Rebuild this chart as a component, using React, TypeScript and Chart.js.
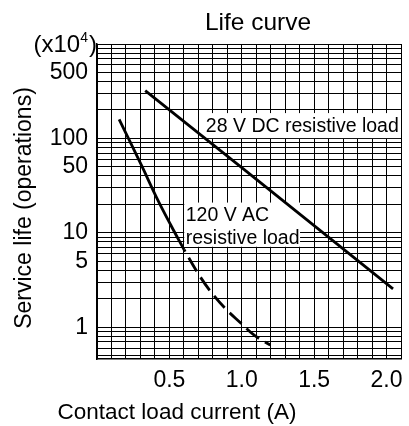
import React, { useEffect, useRef } from 'react';
import { Chart, registerables } from 'chart.js';

Chart.register(...registerables);

const FONT = '"Liberation Sans", Arial, Helvetica, sans-serif';

// ---- texts ----
const chartTitle = 'Life curve';
const xAxisTitle = 'Contact load current (A)';
const yAxisTitle = 'Service life (operations)';
const yUnitBase = '(x10';
const yUnitExp = '4';
const yUnitClose = ')';
const dcLabelLines = ['28 V DC resistive load'];
const acLabelLines = ['120 V AC', 'resistive load'];

// ---- axes ----
const xMin = 0;
const xMax = 2.1;
const yMin = 0.46;
const yMax = 1000;
const xGridValues = [0, 0.1, 0.2, 0.3, 0.4, 0.5, 0.6, 0.7, 0.8, 0.9, 1.0, 1.1, 1.2, 1.3, 1.4, 1.5, 1.6, 1.7, 1.8, 1.9, 2.0, 2.1];
const xLabelValues = [0.5, 1.0, 1.5, 2.0];
const xTickLabels = ['0.5', '1.0', '1.5', '2.0'];
const yGridValues = [
  0.5, 0.6, 0.7, 0.8, 0.9,
  1, 2, 3, 4, 5, 6, 7, 8, 9,
  10, 20, 30, 40, 50, 60, 70, 80, 90,
  100, 200, 300, 400, 500, 600, 700, 800, 900,
  1000,
];
const yLabelValues = [1, 5, 10, 50, 100, 500];
const yTickLabels = ['1', '5', '10', '50', '100', '500'];

// ---- series (current in A, life in x10^4 operations) ----
const dcCurrent = [0.333, 1.0, 2.045];
const dcLife = [320, 48.9, 2.54];

const acSolidCurrent = [0.153, 0.306, 0.41, 0.513, 0.602];
const acSolidLife = [159, 52.3, 23.9, 11.8, 6.6];

const acDashCurrent = [0.602, 0.705, 0.793, 0.889, 0.985, 1.088, 1.197];
const acDashLife = [6.6, 3.57, 2.3, 1.56, 1.135, 0.817, 0.647];

const toPoints = (xs: number[], ys: number[]) => xs.map((x, i) => ({ x, y: ys[i] }));

const near = (a: number, b: number) => Math.abs(a - b) < 1e-6;

const textPlugin = {
  id: 'lifeTexts',
  beforeDatasetsDraw(chart: any) {
    const { ctx, scales } = chart;
    const xs = scales.x;
    const ys = scales.y;
    ctx.save();
    ctx.font = `19.5px ${FONT}`;
    ctx.textBaseline = 'middle';
    ctx.textAlign = 'left';
    // DC label box
    {
      const left = xs.getPixelForValue(0.752);
      const cy = ys.getPixelForValue(135);
      const w = ctx.measureText(dcLabelLines[0]).width;
      ctx.fillStyle = '#fff';
      ctx.fillRect(left - 3, cy - 13, Math.min(w + 6, chart.chartArea.right - 1 - (left - 3)), 25);
      ctx.fillStyle = '#000';
      ctx.fillText(dcLabelLines[0], left, cy + 1);
    }
    // AC label box
    {
      const left = xs.getPixelForValue(0.613);
      const cy1 = ys.getPixelForValue(15.4);
      const cy2 = ys.getPixelForValue(8.96);
      const w = Math.max(...acLabelLines.map((s) => ctx.measureText(s).width));
      ctx.fillStyle = '#fff';
      ctx.fillRect(left - 1.5, cy1 - 12.5, w + 2, cy2 - cy1 + 22);
      ctx.fillStyle = '#000';
      ctx.fillText(acLabelLines[0], left, cy1 + 1);
      ctx.fillText(acLabelLines[1], left, cy2 + 1);
    }
    ctx.restore();
  },
  afterDraw(chart: any) {
    const { ctx, chartArea } = chart;
    ctx.save();
    ctx.fillStyle = '#000';
    // main title
    ctx.font = `24.5px ${FONT}`;
    ctx.textAlign = 'center';
    ctx.textBaseline = 'alphabetic';
    ctx.fillText(chartTitle, 258, 30);
    // x axis title
    ctx.font = `22.5px ${FONT}`;
    ctx.fillText(xAxisTitle, 177, 418.5);
    // y axis title
    ctx.save();
    ctx.translate(30.5, 208);
    ctx.rotate(-Math.PI / 2);
    ctx.font = `23px ${FONT}`;
    ctx.fillText(yAxisTitle, 0, 0);
    ctx.restore();
    // unit label (x10^4)
    ctx.textAlign = 'left';
    ctx.font = `24px ${FONT}`;
    const wBase = ctx.measureText(yUnitBase).width;
    const wClose = ctx.measureText(yUnitClose).width;
    ctx.font = `14px ${FONT}`;
    const wExp = ctx.measureText(yUnitExp).width;
    const right = chartArea.left;
    const start = right - (wBase + wExp + 1 + wClose);
    const base = 51.5;
    ctx.font = `24px ${FONT}`;
    ctx.fillText(yUnitBase, start, base);
    ctx.font = `14px ${FONT}`;
    ctx.fillText(yUnitExp, start + wBase, base - 9.5);
    ctx.font = `24px ${FONT}`;
    ctx.fillText(yUnitClose, start + wBase + wExp + 1, base);
    ctx.restore();
  },
};

export default function App() {
  const canvasRef = useRef<HTMLCanvasElement | null>(null);

  useEffect(() => {
    const canvas = canvasRef.current;
    if (!canvas) return;
    const chart = new Chart(canvas, {
      type: 'line',
      data: {
        datasets: [
          {
            label: '28 V DC resistive load',
            data: toPoints(dcCurrent, dcLife),
            borderColor: '#000',
            borderWidth: 2.8,
            pointRadius: 0,
            tension: 0,
          },
          {
            label: '120 V AC resistive load',
            data: toPoints(acSolidCurrent, acSolidLife),
            borderColor: '#000',
            borderWidth: 2.8,
            pointRadius: 0,
            tension: 0.35,
          },
          {
            label: '120 V AC resistive load (dashed)',
            data: toPoints(acDashCurrent, acDashLife),
            borderColor: '#000',
            borderWidth: 2.8,
            borderDash: [16, 7],
            borderDashOffset: 14,
            pointRadius: 0,
            tension: 0.35,
          },
        ],
      },
      options: {
        animation: false,
        responsive: false,
        events: [],
        layout: { padding: { top: 44, right: 5, left: 0, bottom: 0 } },
        plugins: {
          legend: { display: false },
          title: { display: false },
          tooltip: { enabled: false },
        },
        scales: {
          x: {
            type: 'linear',
            min: xMin,
            max: xMax,
            afterBuildTicks: (scale: any) => {
              scale.ticks = xGridValues.map((v) => ({ value: v }));
            },
            afterFit: (scale: any) => {
              scale.height = 67;
            },
            grid: { color: '#000', lineWidth: 1, drawTicks: false },
            border: { color: '#000', width: 1.5 },
            ticks: {
              autoSkip: false,
              maxRotation: 0,
              minRotation: 0,
              padding: 8,
              color: '#000',
              font: { family: FONT, size: 23 },
              callback: (value: any) => {
                const i = xLabelValues.findIndex((v) => near(v, Number(value)));
                return i >= 0 ? xTickLabels[i] : '';
              },
            },
          },
          y: {
            type: 'logarithmic',
            min: yMin,
            max: yMax,
            afterBuildTicks: (scale: any) => {
              scale.ticks = yGridValues.map((v) => ({ value: v }));
            },
            afterFit: (scale: any) => {
              scale.width = 97;
            },
            grid: { color: '#000', lineWidth: 1, drawTicks: false },
            border: { color: '#000', width: 1.5 },
            ticks: {
              autoSkip: false,
              padding: 9,
              color: '#000',
              font: { family: FONT, size: 23 },
              callback: (value: any) => {
                const i = yLabelValues.findIndex((v) => near(v, Number(value)));
                return i >= 0 ? yTickLabels[i] : '';
              },
            },
          },
        },
      },
      plugins: [textPlugin],
    } as any);
    return () => chart.destroy();
  }, []);

  return (
    <div style={{ position: 'absolute', left: 0, top: 0, width: 409, height: 426, background: '#fff' }}>
      <canvas ref={canvasRef} width={409} height={426} style={{ display: 'block', width: 409, height: 426 }} />
    </div>
  );
}
